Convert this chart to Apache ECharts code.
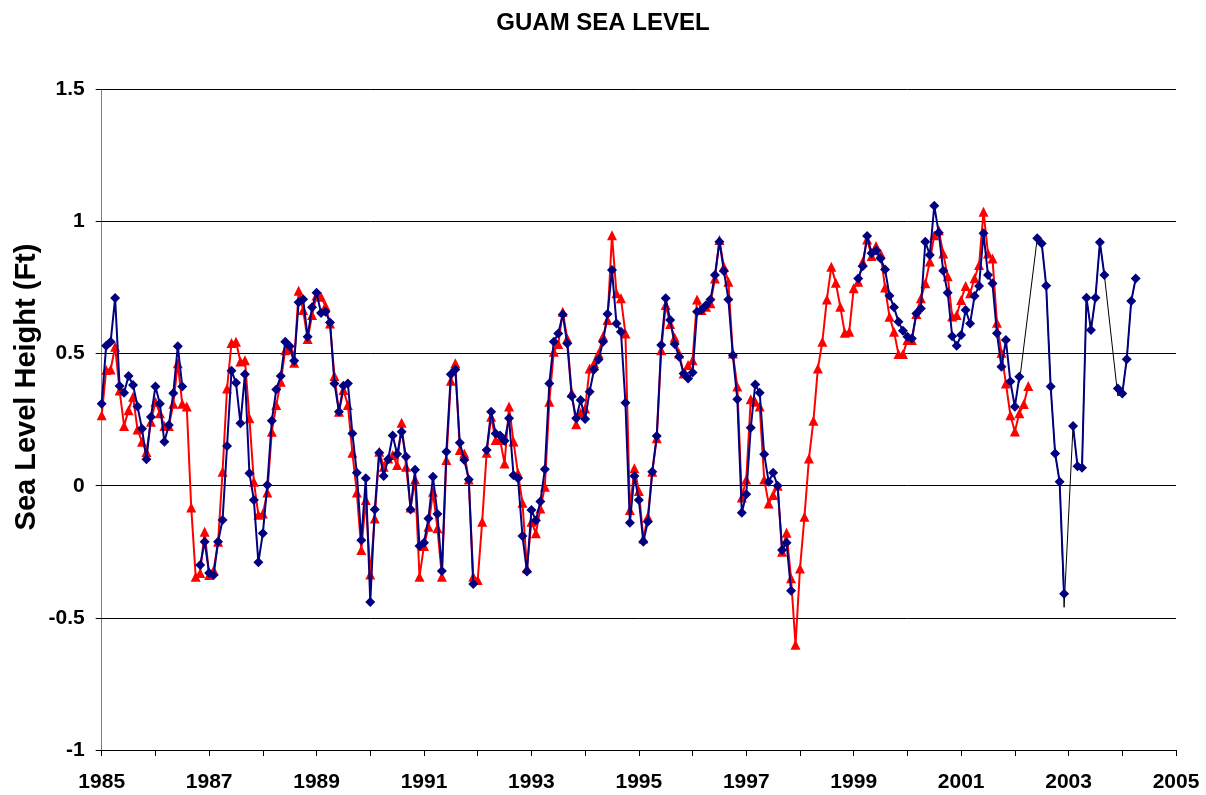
<!DOCTYPE html>
<html>
<head>
<meta charset="utf-8">
<script src="https://cdn.jsdelivr.net/npm/echarts@6/dist/echarts.min.js"></script>
<style>
html,body{margin:0;padding:0;background:#fff;}
#chart{width:1206px;height:795px;}
</style>
</head>
<body>
<div id="chart"></div>
<script>
// Monthly values starting January 1985 (index 0 = 1985.0). null = no data.
const startYear = 1985;
const blueValues = [
 0.31,0.53,0.545,0.71,0.377,0.352,0.415,0.381,0.30,0.216,0.10,0.26,
 0.375,0.31,0.166,0.23,0.35,0.528,0.375,null,null,null,-0.30,-0.212,
 -0.33,-0.338,-0.212,-0.13,0.15,0.435,0.39,0.236,0.422,0.047,-0.054,-0.29,
 -0.18,0.003,0.246,0.364,0.415,0.545,0.528,0.473,0.694,0.706,0.564,0.675,
 0.73,0.654,0.658,0.618,0.387,0.28,0.378,0.387,0.198,0.049,-0.206,0.028,
 -0.44,-0.09,0.125,0.037,0.10,0.19,0.12,0.204,0.11,-0.09,0.06,-0.228,
 -0.216,-0.124,0.034,-0.107,-0.323,0.129,0.422,0.44,0.163,0.097,0.024,-0.372,
 null,null,0.135,0.28,0.198,0.19,0.17,0.255,0.04,0.028,-0.19,-0.325,
 -0.092,-0.132,-0.06,0.062,0.387,0.545,0.576,0.648,0.538,0.339,0.255,0.324,
 0.252,0.356,0.44,0.478,0.545,0.65,0.816,0.614,0.583,0.314,-0.14,0.037,
 -0.054,-0.212,-0.136,0.053,0.188,0.532,0.709,0.627,0.536,0.488,0.425,0.406,
 0.428,0.658,0.665,0.683,0.705,0.797,0.923,0.812,0.705,0.494,0.327,-0.102,
 -0.032,0.219,0.383,0.352,0.119,0.015,0.049,0,-0.243,-0.216,-0.397,null,
 null,null,null,null,null,null,null,null,null,null,null,null,
 null,0.784,0.83,0.945,0.88,0.89,0.86,0.818,0.719,0.675,0.62,0.586,
 0.564,0.557,0.652,0.671,0.923,0.873,1.059,0.957,0.813,0.73,0.566,0.53,
 0.57,0.665,0.614,0.718,0.756,0.955,0.797,0.765,0.577,0.45,0.551,0.394,
 0.299,0.412,null,null,null,0.936,0.917,0.757,0.375,0.122,0.015,-0.409,
 null,0.226,0.074,0.068,0.711,0.589,0.711,0.921,0.797,null,null,0.368,
 0.349,0.479,0.699,0.784
];
const redValues = [
 0.267,0.438,0.44,0.526,0.36,0.226,0.286,0.337,0.213,0.166,0.128,0.242,
 0.318,0.274,0.226,0.226,0.31,0.463,0.31,0.30,-0.082,-0.344,-0.33,-0.174,
 -0.338,-0.32,-0.212,0.053,0.368,0.54,0.545,0.47,0.475,0.255,0.015,-0.11,
 -0.105,-0.026,0.204,0.305,0.393,0.513,0.52,0.465,0.738,0.665,0.555,0.646,
 0.72,0.715,0.68,0.614,0.415,0.28,0.362,0.305,0.125,-0.026,-0.243,-0.054,
 -0.336,-0.124,0.129,0.072,0.103,0.116,0.078,0.238,0.072,-0.082,0.024,-0.344,
 -0.228,-0.155,-0.023,-0.161,-0.344,0.097,0.397,0.463,0.135,0.122,0.024,-0.344,
 -0.357,-0.136,0.125,0.261,0.173,0.173,0.084,0.30,0.167,0.047,-0.064,-0.312,
 -0.136,-0.18,-0.086,-0.004,0.318,0.507,0.536,0.658,0.557,0.352,0.233,0.276,
 0.292,0.444,0.463,0.50,0.566,0.627,0.948,0.728,0.709,0.576,-0.092,0.066,
 -0.02,-0.2,-0.117,0.053,0.18,0.513,0.684,0.612,0.561,0.50,0.425,0.457,
 0.475,0.705,0.665,0.677,0.69,0.784,0.93,0.829,0.772,0.50,0.375,-0.045,
 0.024,0.327,0.318,0.30,0.024,-0.067,-0.035,0,-0.25,-0.178,-0.35,-0.602,
 -0.313,-0.117,0.103,0.246,0.444,0.545,0.705,0.829,0.768,0.677,0.579,0.583,
 0.747,0.772,0.847,0.932,0.869,0.907,0.879,0.75,0.639,0.583,0.498,0.498,
 0.551,0.551,0.65,0.709,0.766,0.848,0.948,0.967,0.879,0.793,0.64,0.646,
 0.703,0.756,0.728,0.785,0.835,1.037,0.879,0.86,0.617,0.503,0.387,0.267,
 0.205,0.274,0.309,0.377
];
// Thin black connector line (month index, value) over the late record
const blackMonths = [205,209,210,211,212,213,214,215,217,218,219,220,221,222,223,224,227,228,229,230,231];
const blackValues = [0.39,0.936,0.917,0.757,0.375,0.122,0.015,-0.46,0.226,0.074,0.068,0.711,0.589,0.711,0.921,0.797,0.34,0.349,0.479,0.699,0.784];

const xTicks = {min:1985, max:2005, step:1};
const yTicks = {min:-1, max:1.5, step:0.5};
const titleText = 'GUAM SEA LEVEL';
const yTitleText = 'Sea Level Height (Ft)';

const toPairs = vals => vals.map((v,i)=>[startYear + i/12, v === null ? '-' : v]);
const blackPairs = blackMonths.map((m,i)=>[startYear + m/12, blackValues[i]]);

const font = 'Liberation Sans, Arial, sans-serif';
const chart = echarts.init(document.getElementById('chart'), null, {renderer:'canvas'});
chart.setOption({
  animation:false,
  backgroundColor:'#fff',
  title:{text:titleText, left:'center', top:6,
    textStyle:{fontFamily:font, fontSize:24, fontWeight:'bold', color:'#000'}},
  graphic:[{type:'text', x:27, y:387, rotation:Math.PI/2,
    style:{text:yTitleText, fontFamily:font, fontSize:29, fontWeight:'bold', fill:'#000',
      align:'center', verticalAlign:'middle'}}],
  grid:{left:101.7, right:30, top:89.3, bottom:45, containLabel:false},
  xAxis:{type:'value', min:xTicks.min, max:xTicks.max, interval:xTicks.step,
    axisLine:{show:true, onZero:false, lineStyle:{color:'#000', width:1}},
    axisTick:{show:true, inside:false, length:6, lineStyle:{color:'#000'}},
    splitLine:{show:false},
    axisLabel:{margin:22, fontFamily:font, fontSize:21, fontWeight:'bold', color:'#000',
      formatter:v => ((v - xTicks.min) % 2 === 0) ? String(v) : ''}},
  yAxis:{type:'value', min:yTicks.min, max:yTicks.max, interval:yTicks.step,
    axisLine:{show:true, onZero:false, lineStyle:{color:'#808080', width:1}},
    axisTick:{show:true, inside:false, length:6, lineStyle:{color:'#000'}},
    splitLine:{show:true, lineStyle:{color:'#000', width:1}},
    axisLabel:{margin:17, fontFamily:font, fontSize:21, fontWeight:'bold', color:'#000'}},
  series:[
    {name:'red', type:'line', data:toPairs(redValues), symbol:'triangle', symbolSize:10,
      lineStyle:{color:'#ff0000', width:2}, itemStyle:{color:'#ff0000'}, z:2},
    {name:'black', type:'line', data:blackPairs, symbol:'none',
      lineStyle:{color:'#000', width:1}, z:3},
    {name:'blue', type:'line', data:toPairs(blueValues), symbol:'diamond', symbolSize:10,
      connectNulls:false,
      lineStyle:{color:'#000080', width:2}, itemStyle:{color:'#000080'}, z:4}
  ]
});
</script>
</body>
</html>
